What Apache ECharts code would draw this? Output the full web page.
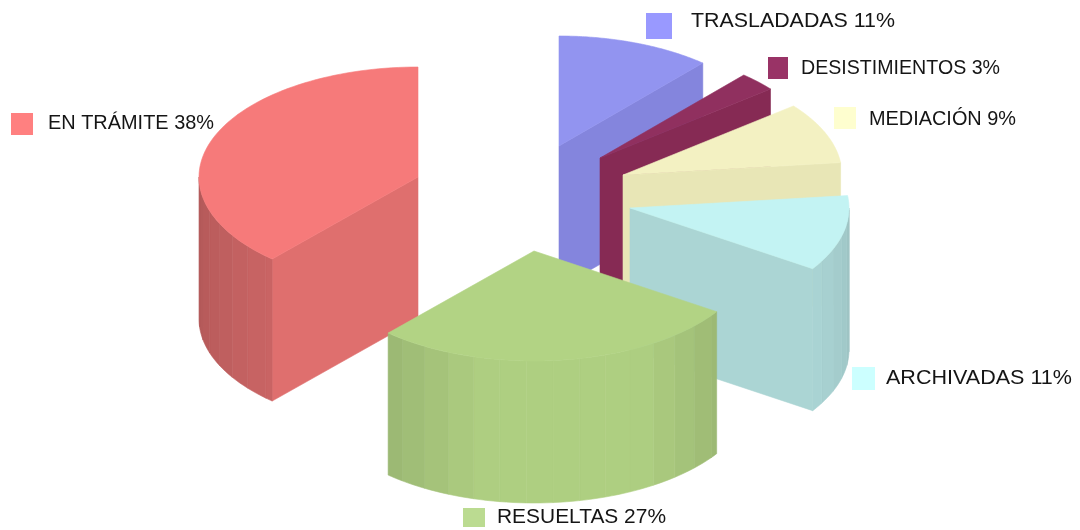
<!DOCTYPE html>
<html>
<head>
<meta charset="utf-8">
<style>html,body{margin:0;padding:0;background:#fff}#c{width:1080px;height:530px;filter:blur(0.45px)}</style>
<script src="https://cdn.jsdelivr.net/npm/echarts@6/dist/echarts.min.js"></script>
</head>
<body>
<div id="c"></div>
<script>
// Data (pie order, clockwise; unrounded shares)
var categories = ['EN TRÁMITE', 'TRASLADADAS', 'DESISTIMIENTOS', 'MEDIACIÓN', 'ARCHIVADAS', 'RESUELTAS'];
var shares = [38.4, 11.4, 2.8, 9.0, 11.1, 27.3];
var labels = ['38%', '11%', '3%', '9%', '11%', '27%'];

// Layout and style
var topColors = ['#F67A7A', '#9294F0', '#90305F', '#F3F1C2', '#C3F3F3', '#B2D384'];
var faceColors = ['#DF6F6E', '#8485DD', '#862A54', '#E8E6B6', '#ABD5D4', '#AFCC82'];
var legendColors = ['#FF8080', '#9999FF', '#993366', '#FEFECF', '#CCFFFF', '#BBDB91'];
var wallTone = [-0.05, 0, 0, 0, 0, 0];
var centers = [[418, 177], [559, 146], [600, 158], [623, 175], [630, 208], [534, 251]];
var legendBoxes = [[11, 113, 22, 22], [646, 13, 26, 26], [768, 57, 20, 22], [834, 107, 22, 22], [852, 367, 23, 23], [463, 508, 22, 19]];
var legendText = [[48, 123], [691, 21], [801, 68], [869, 119], [886, 378], [497, 517]];
var legendTextWidth = [166, 204, 199, 147, 186, 169];
var LABEL_FONT = '20.5px "Liberation Sans", Arial, sans-serif';
var RX = 219, RY = 110, DEPTH = 142, STRIP = 7;

var total = shares.reduce(function (a, b) { return a + b; }, 0);
var startAngle = 360 - shares[0] / total * 360;
var measure = document.createElement('canvas').getContext('2d');
measure.font = LABEL_FONT;

function rad(d) { return d * Math.PI / 180; }
function rim(c, t, dy) {
  return [c[0] + RX * Math.sin(rad(t)), c[1] - RY * Math.cos(rad(t)) + (dy || 0)];
}
function shadeHex(hex, f) {
  var n = parseInt(hex.slice(1), 16);
  var r = Math.round((n >> 16 & 255) * f), g = Math.round((n >> 8 & 255) * f), b = Math.round((n & 255) * f);
  return 'rgb(' + r + ',' + g + ',' + b + ')';
}
function poly(points, fill) {
  return { type: 'polygon', shape: { points: points }, style: { fill: fill, stroke: fill, lineWidth: 0.6 }, silent: true };
}
function wallFace(c, t, fill) {
  return poly([c, rim(c, t), rim(c, t, DEPTH), [c[0], c[1] + DEPTH]], fill);
}
function wallShade(angle) {
  var e = Math.max(0, Math.abs(angle - 172) - 20);
  return 0.98 - 0.0037 * Math.min(e, 30) - 0.0021 * Math.max(e - 30, 0);
}

function renderSlice(params, api) {
  var i = params.dataIndex;
  var before = 0;
  for (var k = 0; k < i; k++) before += shares[k];
  var t1 = startAngle + before / total * 360;
  var t2 = t1 + api.value(0) / total * 360;
  if (t1 >= 360 - 1e-6) { t1 -= 360; t2 -= 360; }
  var c = centers[i], top = topColors[i], kids = [];

  // flat cut faces
  if (Math.sin(rad(t1)) < -1e-6) kids.push(wallFace(c, t1, faceColors[i]));
  if (Math.sin(rad(t2)) > 1e-6) kids.push(wallFace(c, t2, faceColors[i]));

  // curved outer wall, in bands
  var from = Math.max(t1, 90), to = Math.min(t2, 270);
  var a = from;
  while (a < to - 1e-6) {
    var b = Math.min(to, (Math.floor(a / STRIP) + 1) * STRIP);
    var pts = [], s, n = 4;
    for (s = 0; s <= n; s++) pts.push(rim(c, a + (b - a) * s / n));
    for (s = n; s >= 0; s--) pts.push(rim(c, a + (b - a) * s / n, DEPTH));
    kids.push(poly(pts, shadeHex(top, wallShade((a + b) / 2) + wallTone[i])));
    a = b;
  }

  // top face
  var tp = [c];
  for (var q = 0; q <= 80; q++) tp.push(rim(c, t1 + (t2 - t1) * q / 80));
  kids.push(poly(tp, top));

  // legend swatch and text
  var bx = legendBoxes[i], tx = legendText[i];
  var text = categories[i] + ' ' + labels[i];
  kids.push({ type: 'rect', shape: { x: bx[0], y: bx[1], width: bx[2], height: bx[3] }, style: { fill: legendColors[i] }, silent: true, z2: 50 });
  kids.push({
    type: 'text', x: tx[0], y: tx[1], scaleX: legendTextWidth[i] / measure.measureText(text).width, silent: true, z2: 60,
    style: { text: text, fill: '#151515', font: LABEL_FONT, textAlign: 'left', textVerticalAlign: 'middle' }
  });
  return { type: 'group', children: kids };
}

var chart = echarts.init(document.getElementById('c'), null, { renderer: 'canvas' });
chart.setOption({
  animation: false,
  backgroundColor: '#ffffff',
  series: [{
    type: 'custom',
    coordinateSystem: 'none',
    renderItem: renderSlice,
    silent: true,
    data: categories.map(function (name, i) { return { name: name, value: [shares[i]] }; })
  }]
});
</script>
</body>
</html>
